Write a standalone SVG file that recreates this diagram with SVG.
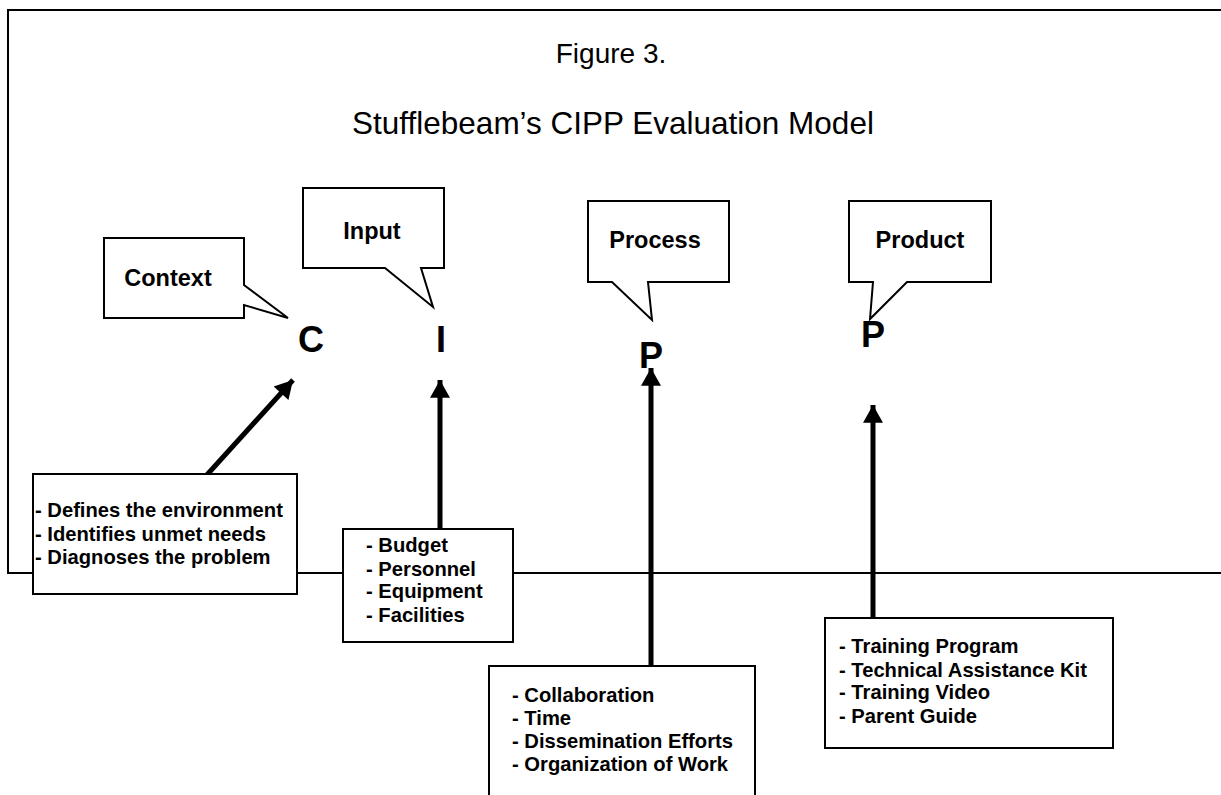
<svg xmlns="http://www.w3.org/2000/svg" width="1221" height="795" viewBox="0 0 1221 795">
<style>
.frame{fill:none;stroke:#000;stroke-width:2}
.box{fill:#fff;stroke:#000;stroke-width:2}
.conn{stroke:#000;stroke-width:5;fill:none}
.title{font-family:"Liberation Sans",Arial,sans-serif;fill:#000}
.lbl{font-family:"Liberation Sans",Arial,sans-serif;font-size:23.5px;font-weight:bold;fill:#000}
.big{font-family:"Liberation Sans",Arial,sans-serif;font-size:36px;font-weight:bold;fill:#000}
.list{font-family:"Liberation Sans",Arial,sans-serif;font-size:20.2px;font-weight:bold;fill:#000}
</style>
<defs>
<marker id="ah" markerUnits="userSpaceOnUse" markerWidth="20" markerHeight="20" viewBox="0 0 16 18" refX="16" refY="9" orient="auto">
<path d="M0,0 L16,9 L0,18 Z" fill="#000"/>
</marker>
</defs>
<rect width="1221" height="795" fill="#fff"/>
<g id="frame">
<path class="frame" d="M1221,10 H8 V573 H1221"/>
</g>
<g id="title">
<text class="title" x="611" y="63" text-anchor="middle" font-size="28">Figure 3.</text>
<text class="title" x="613" y="134" text-anchor="middle" font-size="31.5">Stufflebeam’s CIPP Evaluation Model</text>
</g>
<g id="letters">
<text class="big" x="311" y="352" text-anchor="middle">C</text>
<text class="big" x="441" y="352" text-anchor="middle">I</text>
<text class="big" x="651" y="368" text-anchor="middle">P</text>
<text class="big" x="873" y="347" text-anchor="middle">P</text>
</g>
<g id="context-callout">
<path class="box" d="M104,238 H244 V285 L288,318 L244,305 V318 H104 Z"/>
<text class="lbl" x="168" y="286" text-anchor="middle">Context</text>
</g>
<g id="input-callout">
<path class="box" d="M303,188 H444 V268 H421 L433,307 L385,268 H303 Z"/>
<text class="lbl" x="372" y="239" text-anchor="middle">Input</text>
</g>
<g id="process-callout">
<path class="box" d="M588,201 H729 V282 H648 L652,320 L612,282 H588 Z"/>
<text class="lbl" x="655" y="248" text-anchor="middle">Process</text>
</g>
<g id="product-callout">
<path class="box" d="M849,201 H991 V282 H907 L870,319 L873,282 H849 Z"/>
<text class="lbl" x="920" y="248" text-anchor="middle">Product</text>
</g>
<g id="connectors">
<line class="conn" x1="205" y1="477" x2="293" y2="380" marker-end="url(#ah)"/>
<line class="conn" x1="440" y1="529" x2="440" y2="380" marker-end="url(#ah)"/>
<line class="conn" x1="651" y1="666" x2="651" y2="368" marker-end="url(#ah)"/>
<line class="conn" x1="873" y1="618" x2="873" y2="405" marker-end="url(#ah)"/>
</g>
<g id="context-box">
<rect class="box" x="33" y="474" width="264" height="120"/>
<text class="list" x="35" y="517">- Defines the environment</text>
<text class="list" x="35" y="541">- Identifies unmet needs</text>
<text class="list" x="35" y="564">- Diagnoses the problem</text>
</g>
<g id="input-box">
<rect class="box" x="343" y="529" width="170" height="113"/>
<text class="list" x="366" y="552">- Budget</text>
<text class="list" x="366" y="576">- Personnel</text>
<text class="list" x="366" y="598">- Equipment</text>
<text class="list" x="366" y="622">- Facilities</text>
</g>
<g id="process-box">
<rect class="box" x="489" y="666" width="266" height="140"/>
<text class="list" x="512" y="702">- Collaboration</text>
<text class="list" x="512" y="725">- Time</text>
<text class="list" x="512" y="748">- Dissemination Efforts</text>
<text class="list" x="512" y="771">- Organization of Work</text>
</g>
<g id="product-box">
<rect class="box" x="825" y="618" width="288" height="130"/>
<text class="list" x="839" y="653">- Training Program</text>
<text class="list" x="839" y="677">- Technical Assistance Kit</text>
<text class="list" x="839" y="699">- Training Video</text>
<text class="list" x="839" y="723">- Parent Guide</text>
</g>
</svg>
